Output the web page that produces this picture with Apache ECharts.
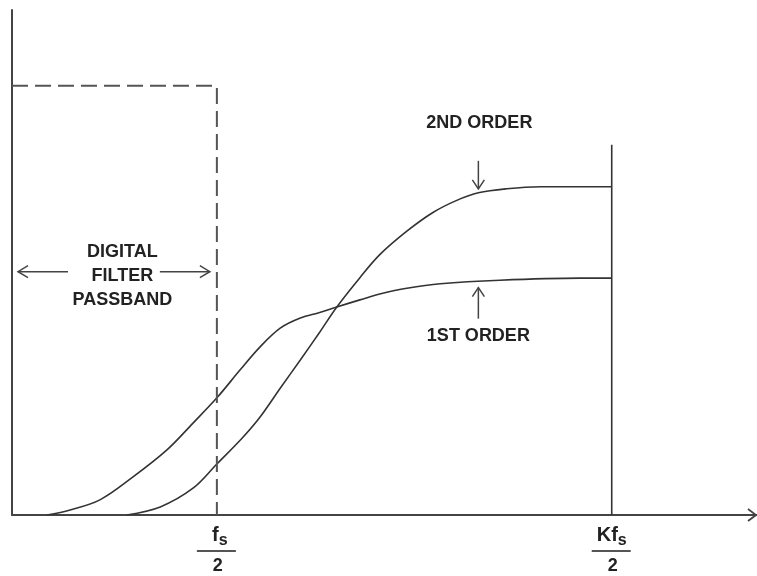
<!DOCTYPE html>
<html><head><meta charset="utf-8">
<script src="https://cdn.jsdelivr.net/npm/echarts@6/dist/echarts.min.js"></script>
<style>html,body{margin:0;padding:0;background:#fff}#c{width:757px;height:576px}</style>
</head><body><div id="c"></div>
<script>
// Frequency axis: 0..100 (relative units); response axis: 0..100 (relative units)
const firstOrderX  = [4.7, 7.8, 11.8, 16.2, 20.8, 24.3, 27.5, 30.6, 33.3, 36.0, 38.7, 41.3, 43.6, 46.7, 49.5, 53.0, 57.5, 65.5, 76.2, 80.5];
const firstOrderY  = [0, 1.0, 3.0, 7.5, 12.9, 18.2, 23.2, 28.7, 33.3, 37.0, 39.0, 40.1, 41.2, 42.6, 43.8, 44.9, 45.8, 46.5, 46.9, 46.9];
const secondOrderX = [15.4, 19.9, 24.3, 27.5, 31.0, 33.3, 36.0, 38.7, 41.3, 43.6, 46.7, 49.4, 53.0, 56.5, 59.7, 62.6, 66.4, 70.9, 76.2, 80.5];
const secondOrderY = [0, 1.6, 5.3, 10.1, 15.4, 19.4, 25.1, 30.7, 36.2, 41.2, 47.0, 51.6, 56.2, 59.9, 62.3, 63.8, 64.6, 65.0, 65.0, 65.0];
const passbandEdge = 27.5;   // fs/2
const passbandLevel = 85;
const kEdge = 80.5;          // Kfs/2
const kLineTop = 73.3;
const passbandText = ['DIGITAL', 'FILTER', 'PASSBAND'];
const secondLabel = '2ND ORDER';
const firstLabel = '1ST ORDER';
const labelAnchorX = 62.6;   // where the order arrows point

const zip = (xs, ys) => xs.map((x, i) => [x, ys[i]]);
const ink = '#333';
const chart = echarts.init(document.getElementById('c'));
chart.setOption({
  animation: false,
  backgroundColor: '#fff',
  grid: { left: 12, top: 10, width: 745, height: 505 },
  xAxis: { type: 'value', min: 0, max: 100, splitLine: { show: false },
    axisTick: { show: false }, axisLabel: { show: false },
    axisLine: { show: true, lineStyle: { color: '#444', width: 2 } } },
  yAxis: { type: 'value', min: 0, max: 100, splitLine: { show: false },
    axisTick: { show: false }, axisLabel: { show: false },
    axisLine: { show: true, lineStyle: { color: '#444', width: 2 } } },
  series: [
    { type: 'line', data: zip(firstOrderX, firstOrderY), showSymbol: false, smooth: 0.35,
      lineStyle: { color: ink, width: 1.6 } },
    { type: 'line', data: zip(secondOrderX, secondOrderY), showSymbol: false, smooth: 0.35,
      lineStyle: { color: ink, width: 1.6 } },
    { type: 'line', data: [[0, passbandLevel], [passbandEdge, passbandLevel], [passbandEdge, 0]], showSymbol: false, clip: false,
      lineStyle: { color: '#555', width: 2, type: [16, 7] } },
    { type: 'line', data: [[kEdge, 0], [kEdge, kLineTop]], showSymbol: false,
      lineStyle: { color: ink, width: 1.6 } }
  ]
});

function P(x, y) { return chart.convertToPixel({ gridIndex: 0 }, [x, y]); }
const font = 'bold 18px "Liberation Sans", Arial, sans-serif';
const g = [];
function text(t, x, y, f, align) {
  g.push({ type: 'text', x: x, y: y, style: { text: t, font: f || font, fill: '#222', align: align || 'center', verticalAlign: 'middle' } });
}
function poly(pts, w) {
  g.push({ type: 'polyline', shape: { points: pts }, style: { stroke: '#444', lineWidth: w || 1.5, fill: null } });
}
// x-axis arrowhead
const end = P(100, 0);
poly([[end[0] - 9, end[1] - 6], [end[0] - 1, end[1]], [end[0] - 9, end[1] + 6]], 1.8);

// passband label and arrows
const pbLeft = P(0, 0)[0], pbRight = P(passbandEdge, 0)[0];
const pbMid = (pbLeft + pbRight) / 2 + 8;
const yMidTxt = P(0, 47.4)[1];
passbandText.forEach((t, i) => text(t, pbMid, yMidTxt - 24 + i * 24));
const ay = yMidTxt - 4;
poly([[pbLeft + 6, ay], [pbLeft + 56, ay]]);
poly([[pbLeft + 16, ay - 6], [pbLeft + 6, ay], [pbLeft + 16, ay + 6]]);
poly([[pbRight - 57, ay], [pbRight - 7, ay]]);
poly([[pbRight - 17, ay - 6], [pbRight - 7, ay], [pbRight - 17, ay + 6]]);

// order labels + arrows
const a2 = P(labelAnchorX, 64.0);
text(secondLabel, a2[0] + 1, a2[1] - 69);
poly([[a2[0], a2[1] - 31], [a2[0], a2[1] - 3]]);
poly([[a2[0] - 6, a2[1] - 12], [a2[0], a2[1] - 3], [a2[0] + 6, a2[1] - 12]]);
const a1 = P(labelAnchorX, 46.4);
text(firstLabel, a1[0], a1[1] + 55);
poly([[a1[0], a1[1] + 38], [a1[0], a1[1] + 7]]);
poly([[a1[0] - 6, a1[1] + 16], [a1[0], a1[1] + 7], [a1[0] + 6, a1[1] + 16]]);

// fraction tick labels
function frac(xv, num) {
  const p = P(xv, 0);
  const cx = p[0];
  g.push({ type: 'text', x: cx + (num === 'f' ? 3 : 0), y: p[1] + 20,
    style: { text: '{n|' + num + '}{s|s}', align: 'center', verticalAlign: 'middle', fill: '#222',
      rich: { n: { font: 'bold 20px "Liberation Sans", Arial, sans-serif', fill: '#222' },
              s: { font: 'bold 16px "Liberation Sans", Arial, sans-serif', fill: '#222', padding: [11, 0, 0, 0] } } } });
  g.push({ type: 'line', shape: { x1: cx - 20, y1: p[1] + 36, x2: cx + 19, y2: p[1] + 36 }, style: { stroke: '#555', lineWidth: 2 } });
  text('2', cx + 1, p[1] + 51);
}
frac(passbandEdge, 'f');
frac(kEdge, 'Kf');
chart.setOption({ graphic: g });
</script></body></html>
